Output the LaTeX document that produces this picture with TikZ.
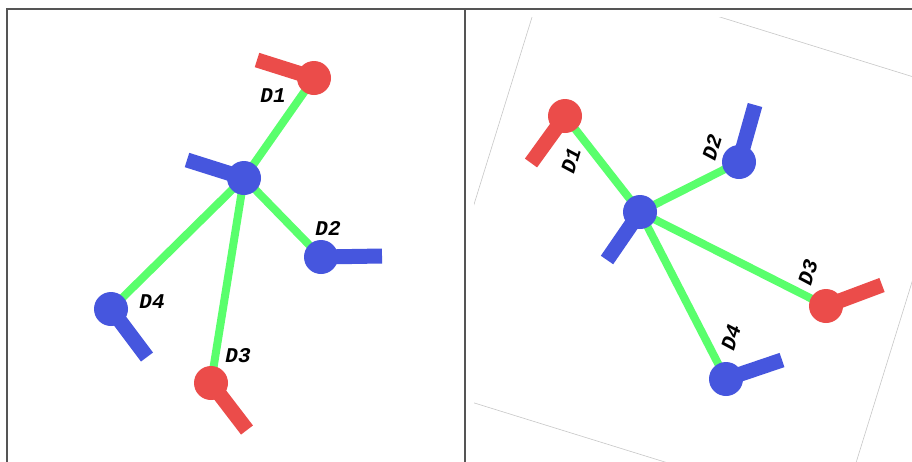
\documentclass[tikz,border=0pt]{standalone}
\usepackage{fontspec}
\newfontfamily\lblfont{Liberation Mono}
\definecolor{jred}{HTML}{EB4C4A}
\definecolor{jblue}{HTML}{4656DE}
\definecolor{jgreen}{HTML}{59FF6C}
\definecolor{frame}{HTML}{555555}
\tikzset{
  joint/.style={circle,minimum size=34pt,inner sep=0pt,fill=#1},
  stub/.style={line width=15pt,line cap=butt,draw=#1},
  link/.style={line width=8pt,draw=jgreen},
  lbl/.style={font=\lblfont\bfseries\itshape\fontsize{21}{21}\selectfont,inner sep=0pt},
  panel/.style={draw=frame,line width=2pt},
  guide/.style={draw=black!22,line width=0.6pt}
}
\begin{document}
\begin{tikzpicture}[x=1pt,y=-1pt]
\useasboundingbox (0,0) rectangle (912,461);
\fill[white] (0,0) rectangle (912,461);
% frame
\draw[panel] (7,470) -- (7,9) -- (920,9);
\draw[panel] (465,9) -- (465,470);

% ---------- left panel ----------
\coordinate (Lc) at (244,178);
\coordinate (L1) at (314,78);
\coordinate (L2) at (321,257);
\coordinate (L3) at (211,383);
\coordinate (L4) at (111,309);
\draw[link] (Lc) -- (L1);
\draw[link] (Lc) -- (L2);
\draw[link] (Lc) -- (L3);
\draw[link] (Lc) -- (L4);
\coordinate (Lcs) at (187,160);
\coordinate (L1s) at (257,60);
\coordinate (L2s) at (382,256);
\coordinate (L3s) at (247,430);
\coordinate (L4s) at (147,357);
\draw[stub=jblue] (Lc) -- (Lcs);
\draw[stub=jred] (L1) -- (L1s);
\draw[stub=jblue] (L2) -- (L2s);
\draw[stub=jred] (L3) -- (L3s);
\draw[stub=jblue] (L4) -- (L4s);
\node[joint=jblue] (lc) at (Lc) {};
\node[joint=jred] (l1) at (L1) {};
\node[joint=jblue] (l2) at (L2) {};
\node[joint=jred] (l3) at (L3) {};
\node[joint=jblue] (l4) at (L4) {};
\node[lbl] (ld1) at (273,96) {D1};
\node[lbl] (ld2) at (328,228) {D2};
\node[lbl] (ld3) at (238,356) {D3};
\node[lbl] (ld4) at (152,302) {D4};

% ---------- right panel ----------
\begin{scope}
\clip (474,17) rectangle (912,461);
\draw[guide] (548.5,-36.1) -- (970.1,94.5) -- (839.5,516.1) -- (417.9,385.5) -- cycle;
\end{scope}
\coordinate (Rc) at (640,212);
\coordinate (R1) at (565,116);
\coordinate (R2) at (739,162);
\coordinate (R3) at (826,306);
\coordinate (R4) at (726,379);
\draw[link] (Rc) -- (R1);
\draw[link] (Rc) -- (R2);
\draw[link] (Rc) -- (R3);
\draw[link] (Rc) -- (R4);
\coordinate (Rcs) at (607,260);
\coordinate (R1s) at (531,163);
\coordinate (R2s) at (755,105);
\coordinate (R3s) at (882,285);
\coordinate (R4s) at (782,360);
\draw[stub=jblue] (Rc) -- (Rcs);
\draw[stub=jred] (R1) -- (R1s);
\draw[stub=jblue] (R2) -- (R2s);
\draw[stub=jred] (R3) -- (R3s);
\draw[stub=jblue] (R4) -- (R4s);
\node[joint=jblue] (rc) at (Rc) {};
\node[joint=jred] (r1) at (R1) {};
\node[joint=jblue] (r2) at (R2) {};
\node[joint=jred] (r3) at (R3) {};
\node[joint=jblue] (r4) at (R4) {};
\node[lbl,rotate=73] (rd1) at (571,160) {D1};
\node[lbl,rotate=73] (rd2) at (712,147) {D2};
\node[lbl,rotate=73] (rd3) at (808,272) {D3};
\node[lbl,rotate=73] (rd4) at (731,337) {D4};
\end{tikzpicture}
\end{document}
